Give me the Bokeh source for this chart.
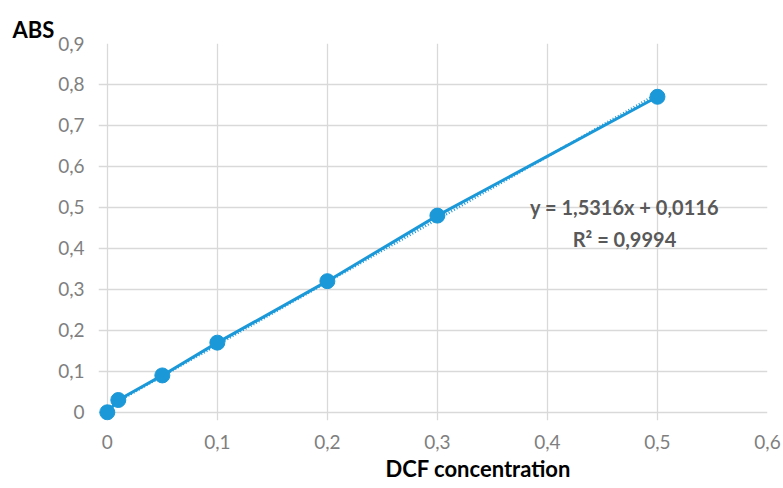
from bokeh.plotting import figure
from bokeh.models import Range1d, FixedTicker, Label, Title
from bokeh.embed import file_html
from bokeh.resources import INLINE
import numpy as np

# data
dcf_conc = [0, 0.01, 0.05, 0.1, 0.2, 0.3, 0.5]
abs_vals = [0, 0.03, 0.09, 0.17, 0.32, 0.48, 0.77]
trend_slope = 1.5316
trend_intercept = 0.0116
equation_text = "y = 1,5316x + 0,0116"
r2_text = "R² = 0,9994"
x_ticks = [0, 0.1, 0.2, 0.3, 0.4, 0.5, 0.6]
x_tick_labels = ["0", "0,1", "0,2", "0,3", "0,4", "0,5", "0,6"]
y_ticks = [0, 0.1, 0.2, 0.3, 0.4, 0.5, 0.6, 0.7, 0.8, 0.9]
y_tick_labels = ["0", "0,1", "0,2", "0,3", "0,4", "0,5", "0,6", "0,7", "0,8", "0,9"]

FONT = "Lato"
BLUE = "#1b98d8"

p = figure(width=783, height=488, output_backend="svg", toolbar_location=None,
           x_range=Range1d(-0.008, 0.6), y_range=Range1d(-0.02, 0.9))
p.min_border_left = 98
p.min_border_right = 16
p.min_border_top = 43
p.min_border_bottom = 68
p.outline_line_color = None
p.background_fill_color = "white"
p.border_fill_color = "white"

for ax, ticks, labels in ((p.xaxis[0], x_ticks, x_tick_labels), (p.yaxis[0], y_ticks, y_tick_labels)):
    ax.ticker = FixedTicker(ticks=ticks)
    ax.major_label_overrides = {t: l for t, l in zip(ticks, labels)}
    ax.axis_line_color = None
    ax.major_tick_line_color = None
    ax.minor_tick_line_color = None
    ax.major_label_text_font = FONT
    ax.major_label_text_font_size = "19px"
    ax.major_label_text_color = "#7f7f7f"
    ax.major_label_standoff = 8

p.xgrid.ticker = FixedTicker(ticks=x_ticks)
p.ygrid.ticker = FixedTicker(ticks=y_ticks)
p.grid.grid_line_color = "#d9d9d9"
p.grid.grid_line_width = 1.3

# trend line (dotted) from equation
tx = np.array([dcf_conc[0], dcf_conc[-1]])
p.line(tx, trend_slope * tx + trend_intercept, line_color=BLUE, line_width=2.5, line_dash="1 2")
# data line + markers
p.line(dcf_conc, abs_vals, line_color=BLUE, line_width=3)
p.scatter(dcf_conc, abs_vals, size=15, fill_color=BLUE, line_color=BLUE)

# axis titles
p.add_layout(Title(text="ABS", align="left", offset=-86, standoff=2,
                   text_font=FONT, text_font_style="bold", text_font_size="22px",
                   text_color="black"), "above")
p.add_layout(Title(text="DCF concentration", align="left", offset=287, standoff=2,
                   text_font=FONT, text_font_style="bold", text_font_size="22px",
                   text_color="black"), "below")

# trendline equation
p.add_layout(Label(x=526, y=214, x_units="screen", y_units="screen", text=equation_text,
                   text_font=FONT, text_font_style="bold", text_font_size="20px",
                   text_color="#595959", text_baseline="middle", text_align="center"))
p.add_layout(Label(x=526, y=182, x_units="screen", y_units="screen", text=r2_text,
                   text_font=FONT, text_font_style="bold", text_font_size="20px",
                   text_color="#595959", text_baseline="middle", text_align="center"))

open("out.html", "w").write(file_html(p, INLINE))
